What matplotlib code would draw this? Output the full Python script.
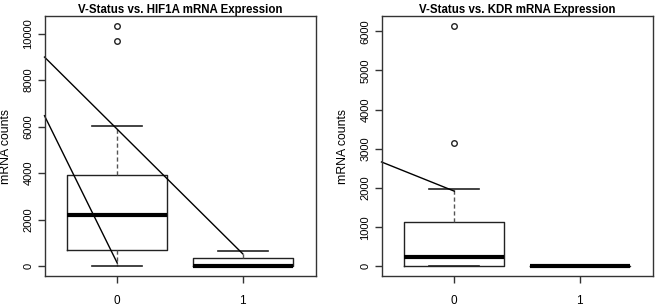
import matplotlib
matplotlib.use("Agg")
import matplotlib.pyplot as plt

plt.rcParams['font.family'] = ['Liberation Sans', 'DejaVu Sans']

groups = ['0', '1']

# HIF1A box stats per group
hif_q1 = [710, 0]
hif_med = [2190, 0]
hif_q3 = [3940, 340]
hif_lo = [0, 0]
hif_hi = [6030, 680]
hif_out = [[9670, 10340], []]
# lines drawn across the panel (x, y pairs)
hif_line1_x = [-0.58, 1.0]
hif_line1_y = [8990, 540]
hif_line2_x = [-0.58, 0.0]
hif_line2_y = [6470, 140]

# KDR box stats per group
kdr_q1 = [0, 0]
kdr_med = [230, 0]
kdr_q3 = [1125, 0]
kdr_lo = [0, 0]
kdr_hi = [1980, 0]
kdr_out = [[3150, 6145], []]
kdr_line_x = [-0.58, 0.0]
kdr_line_y = [2665, 1920]


def stats(q1, med, q3, lo, hi, out):
    res = []
    for i in range(len(groups)):
        res.append(dict(q1=q1[i], med=med[i], q3=q3[i], whislo=lo[i],
                        whishi=hi[i], fliers=out[i], label=groups[i]))
    return res


def draw(ax, st, title, yticks, ymax):
    ax.bxp(st, positions=[0, 1], widths=0.8, capwidths=0.4,
           boxprops=dict(color='#222222', lw=1),
           whiskerprops=dict(color='#555555', lw=1, linestyle=(0, (3, 2))),
           capprops=dict(color='#222222', lw=1.2),
           medianprops=dict(color='black', lw=3, solid_capstyle='butt'),
           flierprops=dict(marker='o', markersize=4, markerfacecolor='none',
                           markeredgecolor='#222222', markeredgewidth=1))
    ax.set_xlim(-0.58, 1.58)
    ax.set_ylim(-0.04 * ymax, 1.04 * ymax)
    ax.set_xticks([0, 1])
    ax.set_xticklabels(groups, fontsize=8.5)
    ax.set_yticks(yticks)
    ax.set_yticklabels([str(t) for t in yticks], rotation=90, va='center', fontsize=8)
    ax.tick_params(direction='out', length=5, width=1, color='#333333')
    ax.tick_params(axis='x', pad=9)
    ax.tick_params(axis='y', pad=3)
    for s in ax.spines.values():
        s.set_color('#333333')
        s.set_linewidth(1)
    ax.set_ylabel('mRNA counts', fontsize=8.8)
    ax.yaxis.set_label_coords(-0.12, 0.5)
    ax.set_title(title, fontweight='bold', fontsize=8.3, pad=1.5)


fig = plt.figure(figsize=(6.58, 3.06), dpi=100)
ax1 = fig.add_axes([44.5 / 658, 1 - 276 / 306, (315.5 - 44.5) / 658, (276 - 16) / 306])
ax2 = fig.add_axes([381.5 / 658, 1 - 276 / 306, (652.5 - 381.5) / 658, (276 - 16) / 306])

draw(ax1, stats(hif_q1, hif_med, hif_q3, hif_lo, hif_hi, hif_out),
     'V-Status vs. HIF1A mRNA Expression', [0, 2000, 4000, 6000, 8000, 10000], 10340)
ax1.plot(hif_line1_x, hif_line1_y, color='black', lw=1, clip_on=False)
ax1.plot(hif_line2_x, hif_line2_y, color='black', lw=1, clip_on=False)

draw(ax2, stats(kdr_q1, kdr_med, kdr_q3, kdr_lo, kdr_hi, kdr_out),
     'V-Status vs. KDR mRNA Expression', [0, 1000, 2000, 3000, 4000, 5000, 6000], 6145)
ax2.plot(kdr_line_x, kdr_line_y, color='black', lw=1, clip_on=False)

fig.savefig('out.png', dpi=100)
